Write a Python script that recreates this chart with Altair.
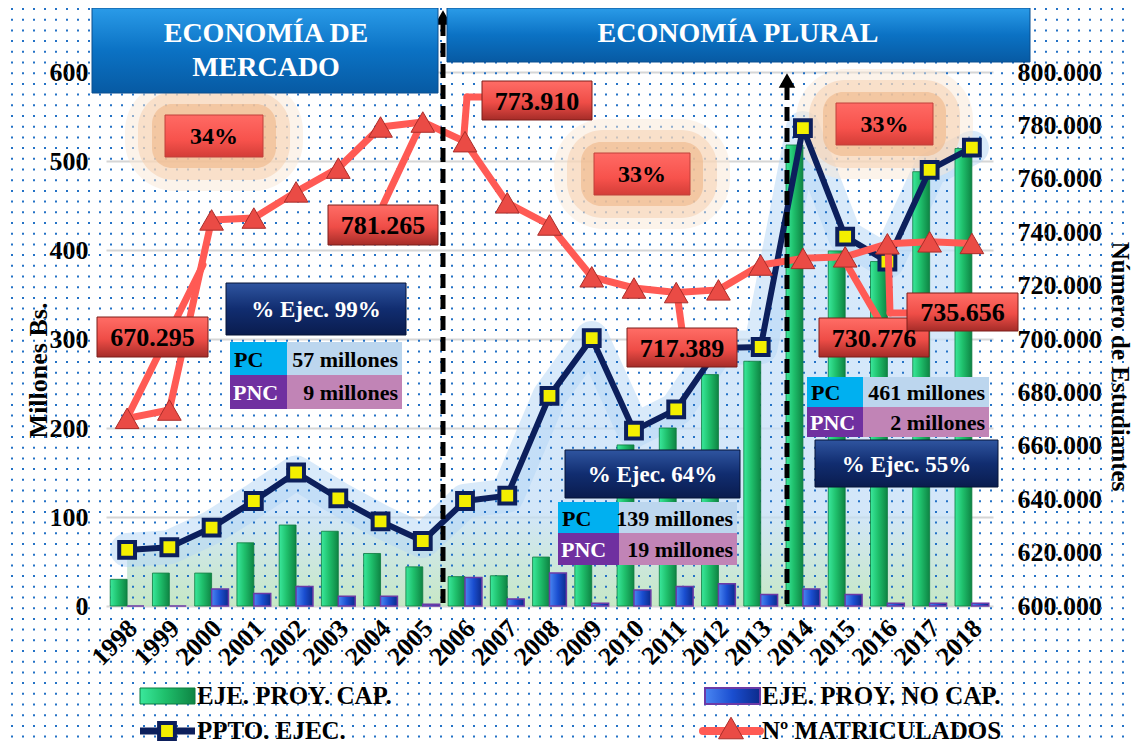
import altair as alt
import pandas as pd

FONT = "Liberation Serif"

# ---------------- data ----------------
years = [str(y) for y in range(1998, 2019)]
eje_cap = [30, 37, 37, 71, 91, 84, 59, 44, 33, 34, 55, 58, 181, 200, 260, 275, 518, 399, 387, 488, 514]
eje_nocap = [0, 0, 19, 14, 22, 11, 11, 2, 32, 8, 37, 3, 18, 22, 25, 13, 19, 13, 3, 3, 3]
ppto = [63, 66, 88, 118, 150, 121, 95, 73, 118, 124, 236, 301, 197, 221, 290, 291, 537, 415, 387, 490, 515]
matric = [670295, 673400, 744600, 745300, 755100, 764000, 779400, 781265, 773910, 751000,
          742700, 723300, 719100, 717389, 718400, 727700, 730200, 730776, 735656, 736400, 735800]

left_ticks = [0, 100, 200, 300, 400, 500, 600]
right_ticks = [600000, 620000, 640000, 660000, 680000, 700000, 720000, 740000, 760000, 780000, 800000]

legend_names = ["EJE. PROY. CAP.", "EJE. PROY. NO CAP.", "PPTO. EJEC.", "Nº MATRICULADOS"]
header_texts = ["ECONOMÍA DE", "MERCADO", "ECONOMÍA PLURAL"]
pct_texts = ["34%", "33%", "33%"]
ejec_texts = ["% Ejec. 99%", "% Ejec. 64%", "% Ejec. 55%"]
table_pc = ["57 millones", "139 millones", "461 millones"]
table_pnc = ["9 millones", "19 millones", "2 millones"]
labelled_years = ["1998", "2005", "2006", "2011", "2015", "2016"]

# ---------------- layout (page pixels) ----------------
OX, OY = 106, 72
W, H = 887, 534

df = pd.DataFrame({"year": years, "cap": eje_cap, "nocap": eje_nocap, "ppto": ppto, "matric": matric})


def grad_h(stops):
    return alt.Gradient(gradient="linear", x1=0, x2=1, y1=0, y2=0,
                        stops=[alt.GradientStop(color=c, offset=o) for o, c in stops])


def grad_v(stops):
    return alt.Gradient(gradient="linear", x1=0, x2=0, y1=0, y2=1,
                        stops=[alt.GradientStop(color=c, offset=o) for o, c in stops])


green_grad = grad_h([(0, "#3ae89c"), (0.45, "#1fc06c"), (1, "#0e8443")])
blue_grad = grad_h([(0, "#4a86f2"), (0.5, "#1a4ed0"), (1, "#0c2b8c")])
red_box = grad_v([(0, "#ff6d66"), (0.55, "#ef4d47"), (1, "#a52c28")])
pct_box = grad_v([(0, "#ff6a64"), (0.6, "#f7524c"), (1, "#d33d37")])
navy_box = grad_v([(0, "#2f55a0"), (0.5, "#112d70"), (1, "#0a1c4e")])
head_box = grad_v([(0, "#2a9be8"), (0.5, "#0b72c4"), (1, "#075aa3")])
area_grad = grad_v([(0, "#cde4fa"), (0.8, "#c4def7"), (1, "#b4e0b2")])

XSC = alt.Scale(paddingInner=0.2, paddingOuter=0.1)
x_axis = alt.Axis(title=None, labelAngle=315, labelAlign="right", labelBaseline="middle",
                  labelPadding=18, labelOffset=6, ticks=False, domain=False,
                  labelFont=FONT, labelFontSize=26, labelFontWeight="bold", labelColor="black")
X_MAIN = alt.X("year:O", scale=XSC, axis=x_axis)
X_PLAIN = alt.X("year:O", scale=XSC, axis=None)

left_axis = alt.Axis(title="Millones Bs.", values=left_ticks, grid=True, gridColor="#d6d6d6",
                     gridWidth=2, domain=False, ticks=False, labelPadding=18,
                     labelFont=FONT, labelFontSize=26, labelFontWeight="bold", labelColor="black",
                     titleFont=FONT, titleFontSize=26, titleFontWeight="bold", titleColor="black",
                     titleAngle=270, titleX=-68, titleY=298, titleAlign="center", titleBaseline="middle")
right_axis = alt.Axis(title="Número de Estudiantes", orient="right", values=right_ticks, grid=False,
                      domain=False, ticks=False, labelPadding=24,
                      labelExpr="replace(format(datum.value, ','), ',', '.')",
                      labelFont=FONT, labelFontSize=26, labelFontWeight="bold", labelColor="black",
                      titleFont=FONT, titleFontSize=25, titleFontWeight="bold", titleColor="black",
                      titleAngle=90, titleX=126, titleY=294, titleAlign="center", titleBaseline="middle")

YL = alt.Scale(domain=[0, 600])
YR = alt.Scale(domain=[600000, 800000])


def px_df(rows):
    return pd.DataFrame([{"x": a - OX, "y": b - OY, "x2": c - OX, "y2": d - OY} for a, b, c, d in rows])


def rect_layer(rows, **mk):
    return alt.Chart(px_df(rows)).mark_rect(**mk).encode(
        x=alt.X("x:Q", scale=None, axis=None), x2="x2",
        y=alt.Y("y:Q", scale=None, axis=None), y2="y2")


def seg_layer(rows, **mk):
    return alt.Chart(px_df(rows)).mark_rule(**mk).encode(
        x=alt.X("x:Q", scale=None, axis=None), x2="x2",
        y=alt.Y("y:Q", scale=None, axis=None), y2="y2")


def text_layer(rows, size, color, align="center"):
    d = pd.DataFrame([{"x": a - OX, "y": b - OY, "t": t} for t, a, b in rows])
    return alt.Chart(d).mark_text(font=FONT, fontSize=size, fontWeight="bold", color=color,
                                  align=align, baseline="middle").encode(
        x=alt.X("x:Q", scale=None, axis=None), y=alt.Y("y:Q", scale=None, axis=None), text="t:N")


def point_layer(rows, **mk):
    d = pd.DataFrame([{"x": a - OX, "y": b - OY} for a, b in rows])
    return alt.Chart(d).mark_point(**mk).encode(
        x=alt.X("x:Q", scale=None, axis=None), y=alt.Y("y:Q", scale=None, axis=None))


# ---------------- background haze & dots ----------------
haze = alt.layer(
    alt.Chart(df).mark_area(fill=area_grad, opacity=0.75).encode(
        x=X_PLAIN, y=alt.Y("ppto:Q", scale=YL, axis=None)),
    alt.Chart(df).mark_line(color="#b3d5f6", strokeWidth=34, opacity=0.5,
                            strokeCap="round", strokeJoin="round").encode(
        x=X_PLAIN, y=alt.Y("ppto:Q", scale=YL, axis=None)),
)

dot_cols = pd.DataFrame({"x": [px - OX for px in range(12, 1134, 11)]})
dots = alt.Chart(dot_cols).mark_rule(color="#2472c6", strokeWidth=2, strokeDash=[2, 8.7]).encode(
    x=alt.X("x:Q", scale=None, axis=None), y=alt.value(8 - OY), y2=alt.value(744 - OY))

# orange glows behind the percentage boxes
pct_boxes = [(165, 115, 263, 157), (594, 153, 690, 195), (836, 103, 933, 145)]
glow0 = rect_layer([(a - 40, b - 34, c + 40, d + 34) for a, b, c, d in pct_boxes],
                   fill="#fae7d6", opacity=0.5, cornerRadius=50)
glow1 = rect_layer([(a - 27, b - 23, c + 27, d + 23) for a, b, c, d in pct_boxes],
                   fill="#f5cfae", opacity=0.55, cornerRadius=36)
glow2 = rect_layer([(a - 13, b - 11, c + 13, d + 11) for a, b, c, d in pct_boxes],
                   fill="#eeb382", opacity=0.55, cornerRadius=20)

# ---------------- main series ----------------
off = alt.XOffset("s:N", scale=alt.Scale(domain=["cap", "nocap"], paddingInner=0, paddingOuter=0))
bars_cap = alt.Chart(df).transform_calculate(s="'cap'", v="datum.cap").mark_bar(
    fill=green_grad, stroke="#0d7a3e", strokeWidth=0.8).encode(
    x=X_MAIN, xOffset=off, y=alt.Y("v:Q", scale=YL, axis=left_axis))
bars_nocap = alt.Chart(df).transform_calculate(s="'nocap'", v="datum.nocap").mark_bar(
    fill=blue_grad, stroke="#6b3aa6", strokeWidth=1.5).encode(
    x=X_MAIN, xOffset=off, y=alt.Y("v:Q", scale=YL, axis=left_axis))
ppto_line = alt.Chart(df).transform_calculate(v="datum.ppto").mark_line(
    color="#0c1f5c", strokeWidth=6, strokeJoin="round").encode(
    x=X_MAIN, y=alt.Y("v:Q", scale=YL, axis=left_axis))
ppto_pts = alt.Chart(df).transform_calculate(v="datum.ppto").mark_point(
    shape="square", filled=True, fill="#f3ef00", stroke="#0c1f5c", strokeWidth=4,
    size=250, opacity=1).encode(
    x=X_MAIN, y=alt.Y("v:Q", scale=YL, axis=left_axis))
main = alt.layer(bars_cap, bars_nocap, ppto_line, ppto_pts)

# leader lines of the value labels
leaders = seg_layer([(127, 418, 203, 265), (383, 205, 423, 120), (463, 147, 467, 97), (467, 97, 484, 97),
                     (677, 293, 682, 330), (843, 258, 878, 318), (888, 242, 890, 313), (890, 313, 908, 313)],
                    color="#ff5a54", strokeWidth=7, strokeCap="round")

matric_line = alt.Chart(df).mark_line(color="#ff5a54", strokeWidth=7, strokeJoin="round").encode(
    x=X_PLAIN, y=alt.Y("matric:Q", scale=YR, axis=right_axis))
matric_pts = alt.Chart(df).mark_point(shape="triangle-up", filled=True, fill="#ea4b45",
                                      stroke="#a92d29", strokeWidth=1, size=560, opacity=1).encode(
    x=X_PLAIN, y=alt.Y("matric:Q", scale=YR, axis=right_axis))
matric_layer = alt.layer(matric_line, matric_pts)

# dashed period separators
dashes = seg_layer([(443, 22, 443, 606), (787, 86, 787, 606)], color="black", strokeWidth=5,
                   strokeDash=[14, 7], strokeCap="butt")
arrows = point_layer([(443, 18), (787, 81)], shape="triangle-up", filled=True, fill="black",
                     stroke="black", size=170, opacity=1)

# value label boxes
val_boxes = [(97, 317, 208, 357), (328, 205, 438, 245), (482, 81, 592, 120),
             (627, 328, 737, 367), (819, 318, 929, 357), (907, 293, 1018, 331)]
val_text = []
for yr, (a, b, c, d) in zip(labelled_years, val_boxes):
    v = matric[years.index(yr)]
    val_text.append((f"{v:,}".replace(",", "."), (a + c) / 2, (b + d) / 2 + 1))
val_rects = rect_layer(val_boxes, fill=red_box, stroke="#7d1f1b", strokeWidth=1)
val_labels = text_layer(val_text, 26, "black")

pct_rects = rect_layer(pct_boxes, fill=pct_box, stroke="#c0403a", strokeWidth=1)
pct_labels = text_layer([(t, (a + c) / 2, (b + d) / 2 + 1) for t, (a, b, c, d) in zip(pct_texts, pct_boxes)],
                        24, "black")

# execution boxes
ejec_boxes = [(226, 283, 406, 335), (565, 450, 740, 498), (815, 440, 998, 487)]
ejec_rects = rect_layer(ejec_boxes, fill=navy_box, stroke="#061539", strokeWidth=1)
ejec_labels = text_layer([(t, (a + c) / 2, (b + d) / 2 + 1) for t, (a, b, c, d) in zip(ejec_texts, ejec_boxes)],
                         23, "white")

# little PC / PNC tables: (x_left, x_split, x_right, y_top, y_mid, y_bottom)
tables = [(230, 287, 402, 342, 375, 409), (558, 619, 737, 502, 533, 565), (807, 863, 989, 377, 407, 437)]
pc_lab = rect_layer([(t[0], t[3], t[1], t[4]) for t in tables], fill="#00b0f0")
pc_val = rect_layer([(t[1], t[3], t[2], t[4]) for t in tables], fill="#bcd6ee")
pnc_lab = rect_layer([(t[0], t[4], t[1], t[5]) for t in tables], fill="#7030a0")
pnc_val = rect_layer([(t[1], t[4], t[2], t[5]) for t in tables], fill="#c184b6")
pc_t = text_layer([("PC", t[0] + 4, (t[3] + t[4]) / 2 + 1) for t in tables], 22, "black", "left")
pnc_t = text_layer([("PNC", t[0] + 3, (t[4] + t[5]) / 2 + 1) for t in tables], 22, "white", "left")
pc_v = text_layer([(s, t[2] - 4, (t[3] + t[4]) / 2 + 1) for s, t in zip(table_pc, tables)], 22, "black", "right")
pnc_v = text_layer([(s, t[2] - 4, (t[4] + t[5]) / 2 + 1) for s, t in zip(table_pnc, tables)], 22, "black", "right")

# headers
head_rects = rect_layer([(92, 8, 438, 93), (447, 8, 1030, 62)], fill=head_box, stroke="#0a4f8f", strokeWidth=1)
head_labels = text_layer([(header_texts[0], 266, 34), (header_texts[1], 266, 68), (header_texts[2], 738, 34)],
                         28, "white")

# legend
leg_green = rect_layer([(140, 688, 195, 704)], fill=green_grad, stroke="#0d7a3e", strokeWidth=1)
leg_blue = rect_layer([(705, 688, 760, 704)], fill=blue_grad, stroke="#6b3aa6", strokeWidth=2)
leg_navy = seg_layer([(140, 731, 195, 731)], color="#0c1f5c", strokeWidth=7)
leg_red = seg_layer([(703, 731, 760, 731)], color="#ff5a54", strokeWidth=8, strokeCap="round")
leg_sq = point_layer([(167, 731)], shape="square", filled=True, fill="#f3ef00", stroke="#0c1f5c",
                     strokeWidth=4, size=250, opacity=1)
leg_tri = point_layer([(731, 728)], shape="triangle-up", filled=True, fill="#ea4b45", stroke="#a92d29",
                      strokeWidth=1, size=620, opacity=1)
leg_text = text_layer([(legend_names[0], 197, 696), (legend_names[1], 762, 696),
                       (legend_names[2], 197, 731), (legend_names[3], 762, 731)], 25, "black", "left")

chart = alt.layer(
    haze, dots, glow0, glow1, glow2, main, leaders, matric_layer, dashes, arrows,
    val_rects, val_labels, pct_rects, pct_labels,
    ejec_rects, ejec_labels, pc_lab, pc_val, pnc_lab, pnc_val, pc_t, pnc_t, pc_v, pnc_v,
    head_rects, head_labels,
    leg_green, leg_blue, leg_navy, leg_red, leg_sq, leg_tri, leg_text,
).resolve_scale(x="independent", y="independent").properties(
    width=W, height=H,
    autosize=alt.AutoSizeParams(type="none"),
    padding={"left": OX - 8, "top": OY - 8, "right": 1141 - 16 - (OX - 8) - W, "bottom": 752 - 16 - (OY - 8) - H},
    background="white",
).configure_view(stroke=None)

chart.save("out.html", embed_options={"renderer": "svg", "actions": False})
